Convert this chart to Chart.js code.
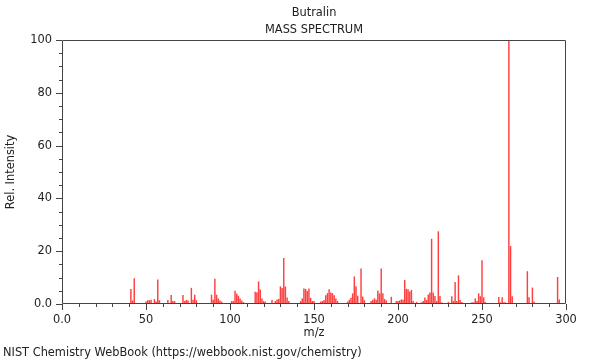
<!DOCTYPE html>
<html>
<head>
<meta charset="utf-8">
<script src="https://cdn.jsdelivr.net/npm/chart.js@4/dist/chart.umd.min.js"></script>
<style>
  html, body { margin: 0; padding: 0; background: #fff; }
  #wrap { width: 600px; height: 360px; }
</style>
</head>
<body>
<div id="wrap"><canvas id="ms-graph" width="600" height="360"></canvas></div>
<script>
const compoundName = 'Butralin'
const chartTitle = 'MASS SPECTRUM'
const xLabel = 'm/z'
const yLabel = 'Rel. Intensity'
const footer = 'NIST Chemistry WebBook (https://webbook.nist.gov/chemistry)'

// m/z values and relative intensities
const mz = [
  41, 42, 43, 50, 51, 52, 53, 55, 56, 57, 58,
  63, 65, 66, 67, 72, 73, 74, 75, 77, 78, 79, 80,
  89, 90, 91, 92, 93, 94, 95,
  101, 102, 103, 104, 105, 106, 107, 108,
  115, 116, 117, 118, 119, 120, 121,
  125, 127, 128, 129, 130, 131, 132, 133, 134, 135,
  142, 143, 144, 145, 146, 147, 148, 149, 150,
  154, 155, 156, 157, 158, 159, 160, 161, 162, 163, 164,
  170, 171, 172, 173, 174, 175, 176, 178, 179, 180,
  184, 185, 186, 187, 188, 189, 190, 191, 192, 193, 196,
  199, 200, 201, 202, 203, 204, 205, 206, 207, 208, 209, 211,
  214, 215, 216, 217, 218, 219, 220, 221, 222, 223, 224, 225, 226,
  230, 232, 233, 234, 235, 236, 237, 238,
  244, 245, 246, 247, 248, 249, 250, 251, 252,
  260, 261, 262, 263, 264, 266, 267, 268,
  277, 278, 280, 281,
  295, 296
]
const intensity = [
  5.6, 1.2, 9.6, 0.8, 1.3, 1.3, 1.5, 1.7, 0.8, 9.2, 1.3,
  1.4, 3.3, 1.0, 1.0, 3.3, 1.0, 1.4, 1.2, 6.0, 1.5, 3.4, 1.3,
  3.4, 1.5, 9.4, 3.4, 2.0, 1.2, 0.8,
  1.0, 1.0, 4.9, 3.8, 3.0, 2.0, 1.2, 0.6,
  4.5, 4.3, 8.4, 5.4, 2.0, 1.0, 0.8,
  1.4, 1.0, 1.6, 1.8, 6.6, 5.9, 17.3, 6.5, 2.3, 1.0,
  1.0, 2.0, 5.7, 5.6, 4.8, 5.7, 2.2, 1.0, 1.0,
  0.8, 1.0, 1.4, 3.2, 4.0, 5.5, 4.2, 4.0, 3.2, 2.0, 1.0,
  0.8, 1.5, 2.2, 3.9, 10.3, 6.6, 3.0, 13.3, 2.7, 1.3,
  1.0, 1.5, 2.0, 1.5, 5.0, 3.9, 13.3, 3.9, 1.8, 1.2, 2.6,
  1.0, 1.0, 1.2, 1.6, 1.5, 9.0, 5.6, 5.5, 4.6, 5.2, 1.0, 0.7,
  0.5, 1.0, 2.3, 1.4, 3.5, 4.2, 24.6, 4.2, 2.9, 1.0, 27.4, 2.9, 0.5,
  0.7, 2.8, 1.0, 8.2, 1.0, 10.7, 1.4, 0.6,
  0.5, 0.5, 2.0, 1.0, 3.9, 2.8, 16.4, 2.4, 0.6,
  2.5, 0.5, 2.4, 0.5, 0.5, 100, 21.8, 2.8,
  12.3, 2.4, 6.1, 0.8,
  10.1, 1.6
]

const xMajor = 50
const yMajor = 20

const axisColor = '#444'
const textColor = '#222'
const fontFamily = 'DejaVu Sans'

// box round the plot, tick marks, titles and footer
const framePlugin = {
  id: 'framePlugin',
  afterDraw (chart) {
    const { ctx, chartArea: { left, right, top, bottom } } = chart
    const xs = chart.scales.x
    const ys = chart.scales.y
    ctx.save()
    ctx.strokeStyle = axisColor
    ctx.lineWidth = 1
    ctx.beginPath()
    ctx.rect(left + 0.5, top + 0.5, right - left - 1, bottom - top - 1)
    ctx.stroke()

    ctx.beginPath()
    xs.ticks.forEach(t => {
      const px = Math.round(xs.getPixelForValue(t.value)) + 0.5
      const len = t.value % xMajor === 0 ? 6 : 3
      ctx.moveTo(px, bottom)
      ctx.lineTo(px, bottom + len)
    })
    ys.ticks.forEach(t => {
      const py = Math.round(ys.getPixelForValue(t.value)) + 0.5
      const len = t.value % yMajor === 0 ? 6 : 3
      ctx.moveTo(left, py)
      ctx.lineTo(left - len, py)
    })
    ctx.stroke()

    ctx.fillStyle = textColor
    ctx.font = '11.4px ' + fontFamily
    ctx.textAlign = 'center'
    ctx.textBaseline = 'middle'
    ctx.fillText(compoundName, (left + right) / 2, 13)
    ctx.fillText(chartTitle, (left + right) / 2, 30)
    ctx.fillText(xLabel, (left + right) / 2, 333)

    ctx.save()
    ctx.translate(11, (top + bottom) / 2)
    ctx.rotate(-Math.PI / 2)
    ctx.fillText(yLabel, 0, 0)
    ctx.restore()

    ctx.textAlign = 'left'
    ctx.fillText(footer, 3, 353)
    ctx.restore()
  }
}

const fmt = v => (v === 0 ? '0.0' : String(v))

new Chart(document.getElementById('ms-graph').getContext('2d'), {
  type: 'bar',
  data: {
    datasets: [{
      data: mz.map((m, i) => ({ x: m, y: intensity[i] })),
      backgroundColor: 'rgba(255, 0, 0, 0.75)',
      borderWidth: 0,
      barThickness: 0.8
    }]
  },
  options: {
    responsive: false,
    animation: false,
    layout: { padding: { top: 40, right: 34, left: 0, bottom: 0 } },
    plugins: {
      legend: { display: false },
      tooltip: { enabled: false },
      title: { display: false }
    },
    scales: {
      x: {
        type: 'linear',
        min: 0,
        max: 300,
        offset: false,
        afterFit (scale) { scale.height = 56 },
        grid: { display: false, drawTicks: false },
        border: { display: false },
        ticks: {
          stepSize: 10,
          autoSkip: false,
          maxRotation: 0,
          padding: 9,
          color: textColor,
          font: { family: fontFamily, size: 11.4 },
          callback: v => (v % xMajor === 0 ? fmt(v) : '')
        }
      },
      y: {
        min: 0,
        max: 100,
        afterFit (scale) { scale.width = 62 },
        grid: { display: false, drawTicks: false },
        border: { display: false },
        ticks: {
          stepSize: 5,
          autoSkip: false,
          padding: 10,
          color: textColor,
          font: { family: fontFamily, size: 11.4 },
          callback: v => (v % yMajor === 0 ? fmt(v) : '')
        }
      }
    }
  },
  plugins: [framePlugin]
})
</script>
</body>
</html>
